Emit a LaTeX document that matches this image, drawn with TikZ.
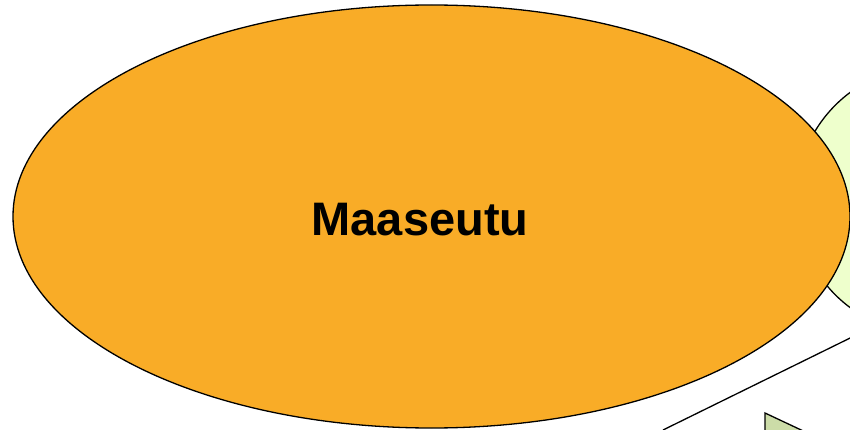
\documentclass[tikz,border=0pt]{standalone}
\usepackage{fontspec}
\setmainfont{Liberation Sans}
\usetikzlibrary{shapes.geometric}
\definecolor{regOrange}{HTML}{F9AC27}
\definecolor{regLime}{HTML}{EEFFCC}
\definecolor{regOlive}{HTML}{CCDCA8}
\tikzset{
  % Region bubbles, each a filled outline.
  region/base/.style={
    draw=black, line width=1.3pt, inner sep=0pt
  },
  region/main/.style={
    region/base, ellipse, fill=regOrange
  },
  region/side/.style={
    region/base, circle, fill=regLime
  },
  % Region name, big and bold.
  region/title/.style={
    font=\fontsize{47}{56}\selectfont\bfseries, text=black, inner sep=0pt
  },
}
\begin{document}
\begin{tikzpicture}[x=1pt,y=-1pt,
  edge/.style={draw=black, line width=1.3pt},
  wedge/.style={edge, fill=regOlive, line join=miter}]

  \useasboundingbox (0,0) rectangle (850,430);
  \clip (0,0) rectangle (850,430);

  \node[region/side, minimum size=268pt] (kaupunki) at (930,200) {};
  \node[region/main, minimum width=837pt, minimum height=423pt] (maaseutu) at (431.5,216.5) {};
  \node[region/title] (maaseutuName) at (420,219.5) {Maaseutu};

  \coordinate (viivaA) at (663,430);
  \coordinate (viivaB) at (900,313.5);
  \draw[edge] (viivaA) -- (viivaB);

  \coordinate (kolmioA) at (765,413);
  \draw[wedge] (765,460) -- (kolmioA) -- (865,460);
\end{tikzpicture}
\end{document}
